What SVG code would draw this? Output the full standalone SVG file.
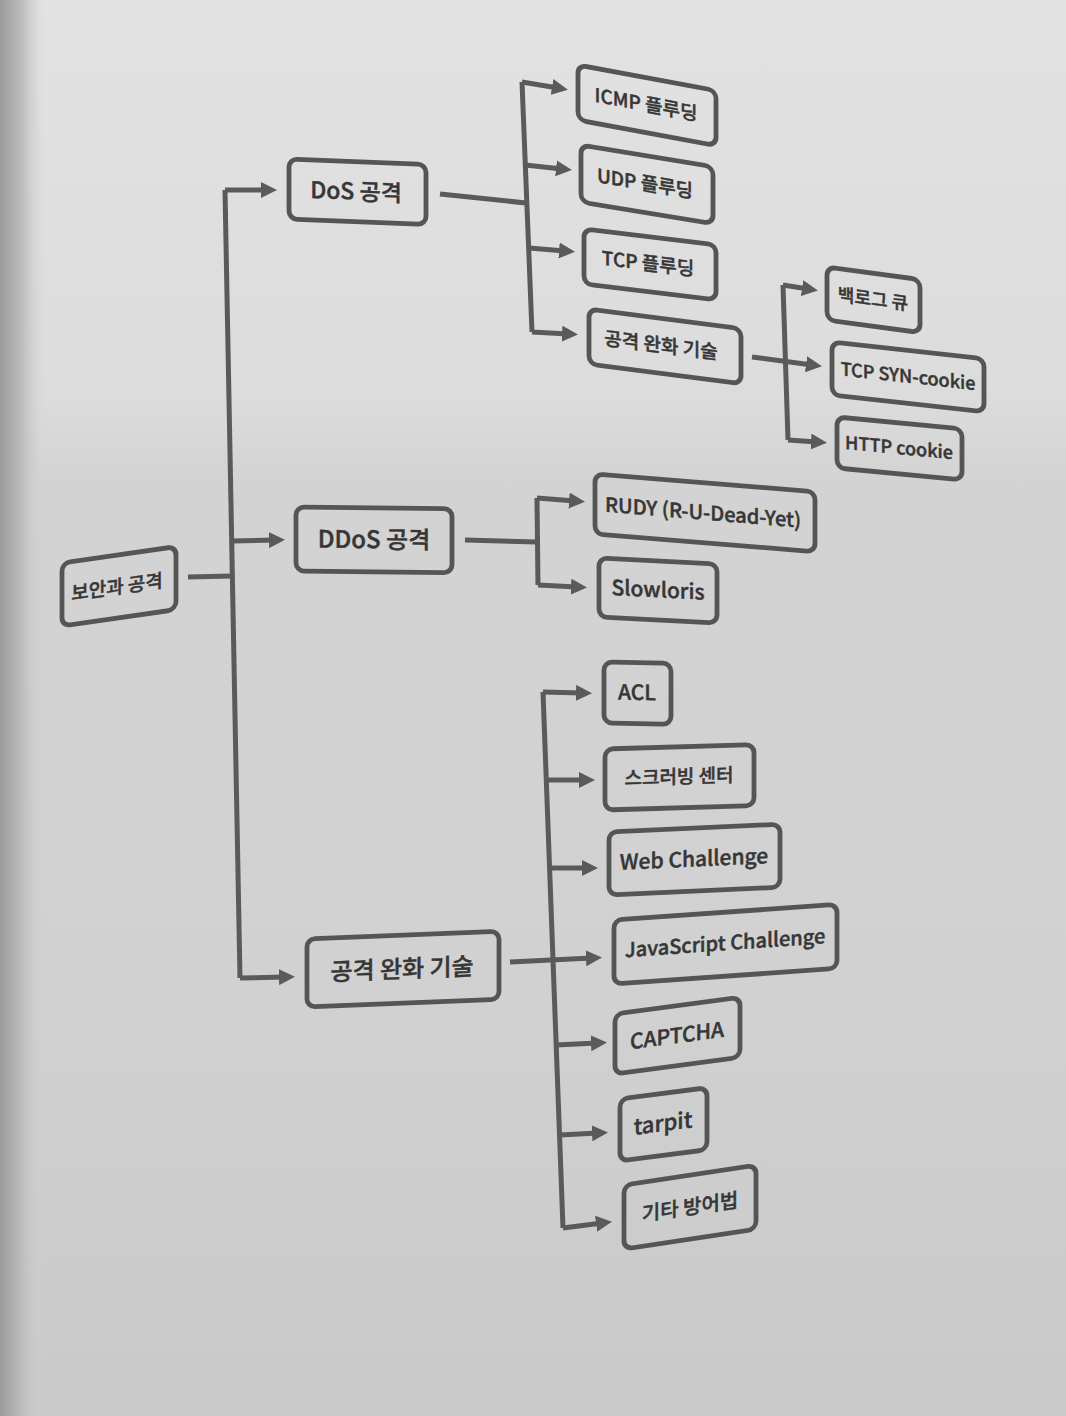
<svg xmlns="http://www.w3.org/2000/svg" width="1066" height="1416" viewBox="0 0 1066 1416">
<defs>
<linearGradient id="bg" x1="0" y1="0" x2="0" y2="1">
<stop offset="0" stop-color="#e2e2e2"/>
<stop offset="0.28" stop-color="#dcdcdc"/>
<stop offset="0.34" stop-color="#d3d3d3"/>
<stop offset="0.7" stop-color="#d1d1d1"/>
<stop offset="1" stop-color="#c9c9c9"/>
</linearGradient>
<linearGradient id="edgeShade" x1="0" y1="0" x2="1" y2="0">
<stop offset="0" stop-color="#9c9c9c"/>
<stop offset="0.5" stop-color="#bdbdbd"/>
<stop offset="1" stop-color="#d2d2d2" stop-opacity="0"/>
</linearGradient>
<marker id="arr" viewBox="0 0 16 16" markerWidth="16" markerHeight="16" refX="6" refY="8" orient="auto" markerUnits="userSpaceOnUse">
<path d="M0,0 L16,8 L0,16 z" fill="#5a5a5a"/>
</marker>
<style>
.box{fill:none;stroke:#555555;stroke-width:4.8}
.lbl{font-family:"Noto Sans CJK KR","Noto Sans",sans-serif;font-weight:500;fill:#363636;stroke:#363636;stroke-width:0.45;text-anchor:middle}
.edge{stroke:#5a5a5a;stroke-width:5;fill:none;stroke-linejoin:miter}
</style>
</defs>
<rect x="0" y="0" width="1066" height="1416" fill="url(#bg)"/>
<rect x="0" y="0" width="44" height="1416" fill="url(#edgeShade)"/>

<g id="connectors">
<path class="edge" d="M188,577 L232,576"/>
<path class="edge" d="M225,190 L240,978"/>
<path class="edge" d="M225,190 L267,190" marker-end="url(#arr)"/>
<path class="edge" d="M232,541 L275,540" marker-end="url(#arr)"/>
<path class="edge" d="M240,978 L285,977" marker-end="url(#arr)"/>

<path class="edge" d="M440,194 L526,203"/>
<path class="edge" d="M522,82 L532,332"/>
<path class="edge" d="M522,82 L558,88" marker-end="url(#arr)"/>
<path class="edge" d="M525,165 L562,169" marker-end="url(#arr)"/>
<path class="edge" d="M529,248 L565,251" marker-end="url(#arr)"/>
<path class="edge" d="M532,332 L568,334" marker-end="url(#arr)"/>

<path class="edge" d="M752,357 L812,365" marker-end="url(#arr)"/>
<path class="edge" d="M783,285 L788,440"/>
<path class="edge" d="M783,285 L808,289" marker-end="url(#arr)"/>
<path class="edge" d="M788,440 L817,442" marker-end="url(#arr)"/>

<path class="edge" d="M465,540 L537,542"/>
<path class="edge" d="M537,498 L538,585"/>
<path class="edge" d="M537,498 L575,501" marker-end="url(#arr)"/>
<path class="edge" d="M538,585 L577,587" marker-end="url(#arr)"/>

<path class="edge" d="M510,962 L592,958" marker-end="url(#arr)"/>
<path class="edge" d="M543,692 L563,1228"/>
<path class="edge" d="M543,692 L582,693" marker-end="url(#arr)"/>
<path class="edge" d="M546,780 L585,780" marker-end="url(#arr)"/>
<path class="edge" d="M549,868 L588,868" marker-end="url(#arr)"/>
<path class="edge" d="M556,1045 L597,1043" marker-end="url(#arr)"/>
<path class="edge" d="M560,1135 L598,1133" marker-end="url(#arr)"/>
<path class="edge" d="M563,1228 L602,1223" marker-end="url(#arr)"/>
</g>

<g id="node-root" transform="translate(62,563) skewY(-8.2)">
<rect class="box" x="0" y="0" width="114" height="63" rx="8"/>
<text class="lbl" x="55" y="32" dy="0.35em" font-size="19">보안과 공격</text>
</g>

<g id="node-dos" transform="translate(289,159) skewY(2.3)">
<rect class="box" x="0" y="0" width="137" height="60" rx="8"/>
<text class="lbl" x="67" y="30" dy="0.35em" font-size="23">DoS 공격</text>
</g>

<g id="node-ddos" transform="translate(296,507) skewY(0.6)">
<rect class="box" x="0" y="0" width="156" height="64" rx="8"/>
<text class="lbl" x="78" y="32" dy="0.35em" font-size="24">DDoS 공격</text>
</g>

<g id="node-mitigation" transform="translate(307,939) skewY(-2.3)">
<rect class="box" x="0" y="0" width="192" height="68" rx="8"/>
<text class="lbl" x="95" y="34" dy="0.35em" font-size="24">공격 완화 기술</text>
</g>

<g id="node-icmp" transform="translate(578,65) skewY(10.5)">
<rect class="box" x="0" y="0" width="138" height="55" rx="8"/>
<text class="lbl" x="68" y="27" dy="0.35em" font-size="19">ICMP 플루딩</text>
</g>

<g id="node-udp" transform="translate(581,145) skewY(9.3)">
<rect class="box" x="0" y="0" width="132" height="57" rx="8"/>
<text class="lbl" x="64" y="28" dy="0.35em" font-size="19">UDP 플루딩</text>
</g>

<g id="node-tcp" transform="translate(584,229) skewY(6.8)">
<rect class="box" x="0" y="0" width="132" height="55" rx="8"/>
<text class="lbl" x="64" y="27" dy="0.35em" font-size="19">TCP 플루딩</text>
</g>

<g id="node-dos-mitigation" transform="translate(589,309) skewY(7.4)">
<rect class="box" x="0" y="0" width="152" height="55" rx="8"/>
<text class="lbl" x="72" y="27" dy="0.35em" font-size="19">공격 완화 기술</text>
</g>

<g id="node-backlog" transform="translate(827,267) skewY(7.7)">
<rect class="box" x="0" y="0" width="93" height="53" rx="8"/>
<text class="lbl" x="46" y="26" dy="0.35em" font-size="18">백로그 큐</text>
</g>

<g id="node-syncookie" transform="translate(832,342) skewY(6.3)">
<rect class="box" x="0" y="0" width="152" height="53" rx="8"/>
<text class="lbl" x="76" y="26" dy="0.35em" font-size="18">TCP SYN-cookie</text>
</g>

<g id="node-httpcookie" transform="translate(837,417) skewY(5.4)">
<rect class="box" x="0" y="0" width="125" height="51" rx="8"/>
<text class="lbl" x="62" y="25" dy="0.35em" font-size="18">HTTP cookie</text>
</g>

<g id="node-rudy" transform="translate(595,474) skewY(4.6)">
<rect class="box" x="0" y="0" width="220" height="60" rx="8"/>
<text class="lbl" x="108" y="30" dy="0.35em" font-size="20">RUDY (R-U-Dead-Yet)</text>
</g>

<g id="node-slowloris" transform="translate(599,558) skewY(2.9)">
<rect class="box" x="0" y="0" width="118" height="59" rx="8"/>
<text class="lbl" x="59" y="29" dy="0.35em" font-size="21">Slowloris</text>
</g>

<g id="node-acl" transform="translate(604,662) skewY(1.1)">
<rect class="box" x="0" y="0" width="67" height="61" rx="8"/>
<text class="lbl" x="33" y="30" dy="0.35em" font-size="21">ACL</text>
</g>

<g id="node-scrubbing" transform="translate(605,749) skewY(-1.7)">
<rect class="box" x="0" y="0" width="149" height="61" rx="8"/>
<text class="lbl" x="74" y="30" dy="0.35em" font-size="19">스크러빙 센터</text>
</g>

<g id="node-webchallenge" transform="translate(609,832) skewY(-2.6)">
<rect class="box" x="0" y="0" width="171" height="63" rx="8"/>
<text class="lbl" x="85" y="31" dy="0.35em" font-size="21">Web Challenge</text>
</g>

<g id="node-jschallenge" transform="translate(614,920) skewY(-4)">
<rect class="box" x="0" y="0" width="223" height="64" rx="8"/>
<text class="lbl" x="111" y="31" dy="0.35em" font-size="20">JavaScript Challenge</text>
</g>

<g id="node-captcha" transform="translate(615,1014) skewY(-7.6)">
<rect class="box" x="0" y="0" width="125" height="60" rx="8"/>
<text class="lbl" x="62" y="30" dy="0.35em" font-size="21">CAPTCHA</text>
</g>

<g id="node-tarpit" transform="translate(620,1099) skewY(-7.4)">
<rect class="box" x="0" y="0" width="87" height="62" rx="8"/>
<text class="lbl" x="43" y="30" dy="0.35em" font-size="22">tarpit</text>
</g>

<g id="node-other" transform="translate(624,1185) skewY(-8.5)">
<rect class="box" x="0" y="0" width="132" height="64" rx="8"/>
<text class="lbl" x="66" y="32" dy="0.35em" font-size="20">기타 방어법</text>
</g>
</svg>
